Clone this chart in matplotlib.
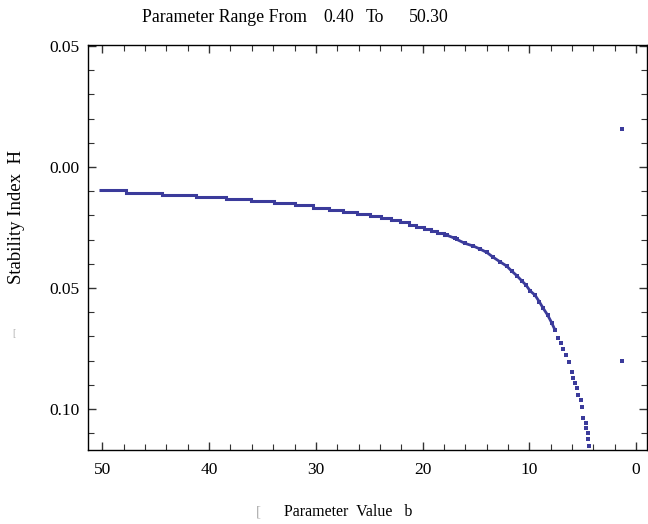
import matplotlib
matplotlib.use("Agg")
import matplotlib.pyplot as plt
from matplotlib.ticker import MultipleLocator, FixedLocator, FixedFormatter

# ---- data ----
# staircase part (flat plateaus, plateau centres)
b_steps = [50.3, 49.3, 46.2, 42.7, 39.7, 37.2, 34.96, 32.9, 31.1, 29.5, 28.1,
           26.76, 25.5, 24.4, 23.43, 22.5, 21.65, 20.9, 20.24, 19.54, 18.93,
           18.28, 17.71]
H_steps = [-0.00963, -0.00963, -0.01088, -0.0117, -0.01252, -0.01335, -0.01417,
           -0.0150, -0.01583, -0.01707, -0.01789, -0.01872, -0.01955, -0.02037,
           -0.0212, -0.0220, -0.02285, -0.0241, -0.0249, -0.02574, -0.0266,
           -0.0274, -0.0282]

# steep part (individual points)
b_curve = [17.71, 16.96, 16.8, 16.03, 15.25, 14.62, 13.99, 13.37, 12.75, 12.12,
           11.65, 11.18, 10.71, 10.31, 9.93, 9.47, 9.06, 8.69, 8.28, 7.90,
           7.59, 7.28, 7.06, 6.81, 6.56, 6.25, 6.03, 5.88, 5.75, 5.56, 5.41,
           5.18, 5.09, 4.94, 4.71, 4.69, 4.53, 4.47, 4.38]
H_curve = [-0.0282, -0.02946, -0.0299, -0.03153, -0.03264, -0.03388, -0.03525,
           -0.03731, -0.03913, -0.04091, -0.04298, -0.04483, -0.04698, -0.04876,
           -0.05112, -0.05289, -0.05566, -0.05839, -0.06116, -0.06434, -0.06736,
           -0.07079, -0.07285, -0.07533, -0.07769, -0.08045, -0.08459, -0.08731,
           -0.08913, -0.09145, -0.09421, -0.09628, -0.0993, -0.10384, -0.1059,
           -0.108, -0.110, -0.1125, -0.1153]

# isolated points
b_iso = [1.31, 1.31]
H_iso = [0.0157, -0.0802]

ytick_vals = [0.05, 0.0, -0.05, -0.10]
ytick_labels = ["0.05", "0.00", "0.05", "0.10"]
xtick_vals = [50, 40, 30, 20, 10, 0]
xtick_labels = ["50", "40", "30", "20", "10", "0"]

# ---- style ----
serif = "Liberation Serif"
plt.rcParams['font.family'] = [serif, 'DejaVu Serif']
col = '#3b3b9b'

fig = plt.figure(figsize=(6.48, 5.24), dpi=100)
ax = fig.add_axes([88/648, 1-450/524, (647-88)/648, (450-45)/524])

ax.plot(b_steps, H_steps, color=col, lw=2.2, drawstyle='steps-mid',
        solid_capstyle='butt', solid_joinstyle='miter')
n_line = sum(1 for b in b_curve if b >= 7.5)
ax.plot(b_curve[:n_line], H_curve[:n_line], color=col, lw=2.0,
        solid_capstyle='butt')
ax.plot(b_curve, H_curve, ls='none', marker='s', ms=2.3, color=col, mew=0)
ax.plot(b_iso, H_iso, ls='none', marker='s', ms=2.3, color=col, mew=0)

ax.set_xlim(51.35, -1.03)
ax.set_ylim(-0.1169, 0.0504)

ax.xaxis.set_major_locator(FixedLocator(xtick_vals))
ax.xaxis.set_major_formatter(FixedFormatter(xtick_labels))
ax.xaxis.set_minor_locator(MultipleLocator(2))
ax.yaxis.set_major_locator(FixedLocator(ytick_vals))
ax.yaxis.set_major_formatter(FixedFormatter(ytick_labels))
ax.yaxis.set_minor_locator(MultipleLocator(0.01))

ax.tick_params(which='both', direction='in', top=True, right=True,
               labelsize=12.5, color='#333333')
ax.tick_params(which='major', length=6, width=1)
ax.tick_params(which='minor', length=4, width=0.8)
ax.tick_params(axis='y', pad=6)
ax.tick_params(axis='x', pad=9)
for s in ax.spines.values():
    s.set_linewidth(1.0)

# title in pieces
ty = 1 - 18/524
fs_t = 12.8
fig.text(142/648, ty, "Parameter Range From", fontsize=fs_t, va='center', ha='left')
fig.text(323/648, ty, "0.40", fontsize=fs_t, va='center', ha='left')
fig.text(366/648, ty, "To", fontsize=fs_t, va='center', ha='left')
fig.text(409/648, ty, "50.30", fontsize=fs_t, va='center', ha='left')

fig.text(17/648, 1 - 217/524, "Stability Index  H", rotation=90, fontsize=13.5,
         va='center', ha='center')
fig.text(14/648, 1 - 333/524, "[", fontsize=7, color='#aaaaaa', va='center', ha='center')

fig.text(284/648, 1 - 512/524, "Parameter  Value   b", fontsize=11.5,
         va='center', ha='left')
fig.text(258/648, 1 - 512/524, "[", fontsize=11, color='#aaaaaa', va='center', ha='center')

fig.savefig("out.png", dpi=100)
